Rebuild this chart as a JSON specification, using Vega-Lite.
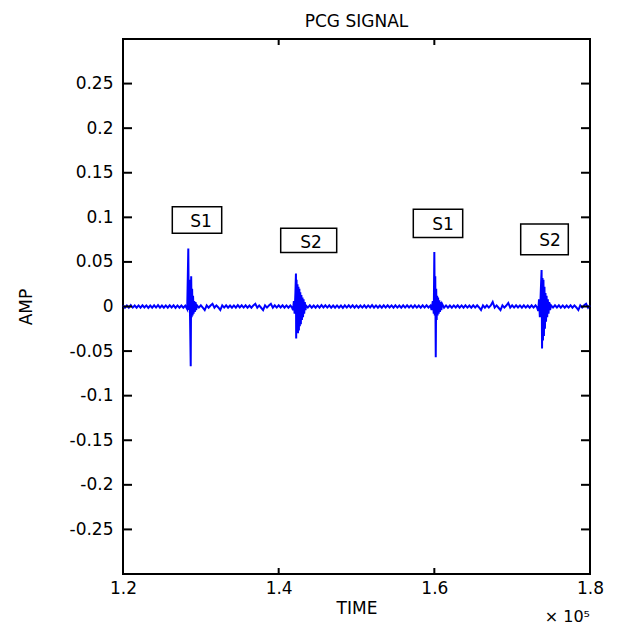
{
  "$schema": "https://vega.github.io/schema/vega-lite/v6.json",
  "width": 467,
  "height": 535,
  "autosize": {"type": "none"},
  "padding": {"left": 123, "top": 39, "right": 27, "bottom": 52},
  "background": "white",
  "title": {"text": "PCG SIGNAL", "offset": 8},
  "datasets": {
    "sig": [
      {"t":120000,"a":0.0012},{"t":120250,"a":-0.0014},{"t":120500,"a":0.0011},{"t":120750,"a":-0.0013},
      {"t":121000,"a":0.0015},{"t":121250,"a":-0.0012},{"t":121500,"a":0.0011},{"t":121750,"a":-0.0014},
      {"t":122000,"a":0.0012},{"t":122250,"a":-0.0013},{"t":122500,"a":0.0014},{"t":122750,"a":-0.0011},
      {"t":123000,"a":0.0012},{"t":123250,"a":-0.0015},{"t":123500,"a":0.0011},{"t":123750,"a":-0.0013},
      {"t":124000,"a":0.0013},{"t":124250,"a":-0.0012},{"t":124500,"a":0.0015},{"t":124750,"a":-0.0013},
      {"t":125000,"a":0.0011},{"t":125250,"a":-0.0014},{"t":125500,"a":0.0012},{"t":125750,"a":-0.0013},
      {"t":126000,"a":0.0014},{"t":126250,"a":-0.0011},{"t":126500,"a":0.0013},{"t":126750,"a":-0.0015},
      {"t":127000,"a":0.0012},{"t":127250,"a":-0.0013},{"t":127500,"a":0.0011},{"t":127750,"a":-0.0014},
      {"t":128000,"a":0.001},{"t":128250,"a":-0.003},{"t":128390,"a":0.065},{"t":128450,"a":-0.004},
      {"t":128560,"a":0.03},{"t":128620,"a":-0.015},{"t":128700,"a":-0.067},{"t":128760,"a":0.034},
      {"t":128820,"a":-0.012},{"t":128880,"a":0.02},{"t":128940,"a":-0.01},{"t":129000,"a":0.012},
      {"t":129070,"a":-0.008},{"t":129150,"a":0.006},{"t":129230,"a":-0.006},{"t":129320,"a":0.005},
      {"t":129400,"a":-0.004},
      {"t":129500,"a":0.0013},{"t":129750,"a":-0.0012},{"t":130000,"a":0.0014},{"t":130250,"a":-0.0013},
      {"t":130500,"a":-0.004},{"t":130750,"a":0.0012},{"t":131000,"a":-0.0014},{"t":131250,"a":0.0011},
      {"t":131500,"a":0.003},{"t":131750,"a":-0.0013},{"t":132000,"a":0.0012},{"t":132250,"a":-0.0011},
      {"t":132500,"a":-0.004},{"t":132750,"a":0.0013},{"t":133000,"a":-0.0012},{"t":133250,"a":0.0014},
      {"t":133500,"a":-0.0013},{"t":133750,"a":0.0011},{"t":134000,"a":-0.0014},{"t":134250,"a":0.0012},
      {"t":134500,"a":-0.0013},{"t":134750,"a":0.0015},{"t":135000,"a":-0.0011},{"t":135250,"a":0.0013},
      {"t":135500,"a":-0.0012},{"t":135750,"a":0.0014},{"t":136000,"a":-0.0013},{"t":136250,"a":0.0011},
      {"t":136500,"a":-0.0014},{"t":136750,"a":0.0012},{"t":137000,"a":0.003},{"t":137250,"a":-0.0013},
      {"t":137500,"a":0.0012},{"t":137750,"a":-0.0014},{"t":138000,"a":-0.004},{"t":138250,"a":0.0013},
      {"t":138500,"a":-0.0012},{"t":138750,"a":0.0011},{"t":139000,"a":0.003},{"t":139250,"a":-0.0013},
      {"t":139500,"a":0.0014},{"t":139750,"a":-0.0012},{"t":140000,"a":0.0013},{"t":140250,"a":-0.0011},
      {"t":140500,"a":0.0014},{"t":140750,"a":-0.0013},{"t":141000,"a":0.0012},{"t":141250,"a":-0.0014},
      {"t":141500,"a":0.0011},
      {"t":141700,"a":-0.001},{"t":141850,"a":-0.004},{"t":141950,"a":0.006},{"t":142050,"a":-0.008},
      {"t":142150,"a":0.015},{"t":142220,"a":0.037},{"t":142250,"a":-0.036},{"t":142300,"a":0.03},
      {"t":142350,"a":-0.03},{"t":142420,"a":0.025},{"t":142480,"a":-0.03},{"t":142540,"a":0.022},
      {"t":142600,"a":-0.027},{"t":142660,"a":0.02},{"t":142720,"a":-0.022},{"t":142780,"a":0.016},
      {"t":142850,"a":-0.02},{"t":142920,"a":0.013},{"t":142990,"a":-0.015},{"t":143060,"a":0.01},
      {"t":143130,"a":-0.012},{"t":143200,"a":0.008},{"t":143280,"a":-0.008},{"t":143360,"a":0.005},
      {"t":143450,"a":-0.004},
      {"t":143500,"a":0.0013},{"t":143750,"a":-0.0012},{"t":144000,"a":0.0014},{"t":144250,"a":-0.0013},
      {"t":144500,"a":0.0011},{"t":144750,"a":-0.0014},{"t":145000,"a":0.0012},{"t":145250,"a":-0.0013},
      {"t":145500,"a":0.0015},{"t":145750,"a":-0.0011},{"t":146000,"a":0.0013},{"t":146250,"a":-0.0012},
      {"t":146500,"a":0.0014},{"t":146750,"a":-0.0013},{"t":147000,"a":0.0011},{"t":147250,"a":-0.0014},
      {"t":147500,"a":0.0012},{"t":147750,"a":-0.0013},{"t":148000,"a":0.0011},{"t":148250,"a":-0.0015},
      {"t":148500,"a":0.0013},{"t":148750,"a":-0.0012},{"t":149000,"a":0.0014},{"t":149250,"a":-0.0011},
      {"t":149500,"a":0.0013},{"t":149750,"a":-0.0014},{"t":150000,"a":0.0012},{"t":150250,"a":-0.0013},
      {"t":150500,"a":0.0011},{"t":150750,"a":-0.0012},{"t":151000,"a":0.0014},{"t":151250,"a":-0.0013},
      {"t":151500,"a":0.0012},{"t":151750,"a":-0.0011},{"t":152000,"a":0.0015},{"t":152250,"a":-0.0013},
      {"t":152500,"a":0.0012},{"t":152750,"a":-0.0014},{"t":153000,"a":0.0011},{"t":153250,"a":-0.0013},
      {"t":153500,"a":0.0014},{"t":153750,"a":-0.0012},{"t":154000,"a":0.0013},{"t":154250,"a":-0.0011},
      {"t":154500,"a":0.0012},{"t":154750,"a":-0.0014},{"t":155000,"a":0.0013},{"t":155250,"a":-0.0012},
      {"t":155500,"a":0.0011},{"t":155750,"a":-0.0013},{"t":156000,"a":0.0014},{"t":156250,"a":-0.0012},
      {"t":156500,"a":0.0013},{"t":156750,"a":-0.0011},{"t":157000,"a":0.0012},{"t":157250,"a":-0.0014},
      {"t":157500,"a":0.0013},{"t":157750,"a":-0.0012},{"t":158000,"a":0.0011},{"t":158250,"a":-0.0013},
      {"t":158500,"a":0.0014},{"t":158750,"a":-0.0012},{"t":159000,"a":0.0013},{"t":159250,"a":-0.0011},
      {"t":159500,"a":0.001},{"t":159650,"a":-0.004},{"t":159800,"a":0.006},{"t":159930,"a":-0.008},
      {"t":160000,"a":0.061},{"t":160060,"a":-0.01},{"t":160120,"a":0.034},{"t":160183,"a":-0.057},
      {"t":160240,"a":0.02},{"t":160300,"a":-0.015},{"t":160360,"a":0.012},{"t":160420,"a":-0.01},
      {"t":160480,"a":0.01},{"t":160560,"a":-0.008},{"t":160640,"a":0.007},{"t":160720,"a":-0.006},
      {"t":160800,"a":0.005},{"t":160900,"a":-0.004},{"t":161000,"a":0.003},
      {"t":161250,"a":-0.0013},{"t":161500,"a":0.0012},{"t":161750,"a":-0.0014},{"t":162000,"a":0.0011},
      {"t":162250,"a":-0.0013},{"t":162500,"a":0.0012},{"t":162750,"a":-0.0011},{"t":163000,"a":0.0014},
      {"t":163250,"a":-0.0013},{"t":163500,"a":0.0012},{"t":163750,"a":-0.0014},{"t":164000,"a":0.0013},
      {"t":164250,"a":-0.0012},{"t":164500,"a":0.0011},{"t":164750,"a":-0.0013},{"t":165000,"a":0.0014},
      {"t":165250,"a":-0.0012},{"t":165500,"a":0.0013},{"t":165750,"a":-0.0011},{"t":166000,"a":-0.004},
      {"t":166250,"a":0.0012},{"t":166500,"a":-0.0014},{"t":166750,"a":0.0013},{"t":167000,"a":-0.0012},
      {"t":167250,"a":0.0011},{"t":167500,"a":0.005},{"t":167750,"a":-0.0013},{"t":168000,"a":0.0012},
      {"t":168250,"a":-0.0014},{"t":168500,"a":-0.004},{"t":168750,"a":0.0013},{"t":169000,"a":-0.0012},
      {"t":169250,"a":0.0011},{"t":169500,"a":0.004},{"t":169750,"a":-0.0013},{"t":170000,"a":0.0014},
      {"t":170250,"a":-0.0012},{"t":170500,"a":0.0013},{"t":170750,"a":-0.0011},{"t":171000,"a":0.0012},
      {"t":171250,"a":-0.0014},{"t":171500,"a":0.0013},{"t":171750,"a":-0.0012},{"t":172000,"a":0.0011},
      {"t":172250,"a":-0.0013},{"t":172500,"a":0.0014},{"t":172750,"a":-0.0012},{"t":173000,"a":0.0013},
      {"t":173200,"a":-0.001},{"t":173350,"a":-0.005},{"t":173450,"a":0.008},{"t":173560,"a":-0.012},
      {"t":173680,"a":0.018},{"t":173780,"a":0.041},{"t":173840,"a":-0.047},{"t":173900,"a":0.032},
      {"t":173960,"a":-0.038},{"t":174020,"a":0.03},{"t":174080,"a":-0.033},{"t":174150,"a":0.022},
      {"t":174210,"a":-0.025},{"t":174280,"a":0.015},{"t":174350,"a":-0.017},{"t":174420,"a":0.012},
      {"t":174500,"a":-0.012},{"t":174580,"a":0.008},{"t":174670,"a":-0.008},{"t":174760,"a":0.005},
      {"t":174870,"a":-0.004},
      {"t":175000,"a":0.0013},{"t":175250,"a":-0.0012},{"t":175500,"a":0.0014},{"t":175750,"a":-0.0011},
      {"t":176000,"a":0.0013},{"t":176250,"a":-0.0014},{"t":176500,"a":0.0012},{"t":176750,"a":-0.0013},
      {"t":177000,"a":0.0011},{"t":177250,"a":-0.0012},{"t":177500,"a":0.0014},{"t":177750,"a":-0.0013},
      {"t":178000,"a":0.0012},{"t":178250,"a":-0.0011},{"t":178500,"a":-0.004},{"t":178750,"a":0.0013},
      {"t":179000,"a":-0.0012},{"t":179250,"a":0.0014},{"t":179500,"a":0.003},{"t":179750,"a":-0.0013},
      {"t":180000,"a":0.0012}
    ],
    "boxes": [
      {"label":"S1","t1":126334,"t2":132681,"a1":0.0822,"a2":0.112,"tx":130021,"ax":0.0952},
      {"label":"S2","t1":140261,"t2":147456,"a1":0.0605,"a2":0.0878,"tx":144154,"ax":0.0713},
      {"label":"S1","t1":157297,"t2":163644,"a1":0.0773,"a2":0.109,"tx":161113,"ax":0.0915},
      {"label":"S2","t1":171096,"t2":177212,"a1":0.0579,"a2":0.0926,"tx":174861,"ax":0.0739}
    ],
    "xticks": [{"t":140000},{"t":160000}],
    "yticks": [{"a":-0.25},{"a":-0.2},{"a":-0.15},{"a":-0.1},{"a":-0.05},{"a":0},{"a":0.05},{"a":0.1},{"a":0.15},{"a":0.2},{"a":0.25}],
    "mult": [{"t":180000,"a":-0.3542,"label":"× 10⁵"}]
  },
  "layer": [
    {
      "data": {"name": "sig"},
      "mark": {"type": "line", "color": "#0000ff", "strokeWidth": 2},
      "encoding": {
        "x": {"field": "t", "type": "quantitative",
          "scale": {"domain": [120000, 180000], "nice": false, "zero": false},
          "axis": {"orient": "bottom", "values": [120000, 140000, 160000, 180000],
            "labelExpr": "format(datum.value/100000, '.1f')", "title": "TIME",
            "ticks": false, "labelPadding": 6, "titlePadding": 4, "labelFlush": false}},
        "y": {"field": "a", "type": "quantitative",
          "scale": {"domain": [-0.3, 0.3], "nice": false, "zero": false},
          "axis": {"orient": "left", "values": [-0.25, -0.2, -0.15, -0.1, -0.05, 0, 0.05, 0.1, 0.15, 0.2, 0.25],
            "labelExpr": "'' + datum.value", "title": "AMP",
            "ticks": false, "labelPadding": 10, "titlePadding": 34}}
      }
    },
    {
      "data": {"name": "xticks"},
      "mark": {"type": "tick", "orient": "vertical", "size": 12, "thickness": 2, "color": "#000", "opacity": 1, "clip": true},
      "encoding": {
        "x": {"field": "t", "type": "quantitative", "scale": {"domain": [120000, 180000], "nice": false, "zero": false}, "axis": null},
        "y": {"datum": -0.3, "type": "quantitative", "scale": {"domain": [-0.3, 0.3], "nice": false, "zero": false}, "axis": null}
      }
    },
    {
      "data": {"name": "xticks"},
      "mark": {"type": "tick", "orient": "vertical", "size": 12, "thickness": 2, "color": "#000", "opacity": 1, "clip": true},
      "encoding": {
        "x": {"field": "t", "type": "quantitative", "scale": {"domain": [120000, 180000], "nice": false, "zero": false}, "axis": null},
        "y": {"datum": 0.3, "type": "quantitative", "scale": {"domain": [-0.3, 0.3], "nice": false, "zero": false}, "axis": null}
      }
    },
    {
      "data": {"name": "yticks"},
      "mark": {"type": "tick", "orient": "horizontal", "size": 18, "thickness": 2, "color": "#000", "opacity": 1, "clip": true},
      "encoding": {
        "x": {"datum": 120000, "type": "quantitative", "scale": {"domain": [120000, 180000], "nice": false, "zero": false}, "axis": null},
        "y": {"field": "a", "type": "quantitative", "scale": {"domain": [-0.3, 0.3], "nice": false, "zero": false}, "axis": null}
      }
    },
    {
      "data": {"name": "yticks"},
      "mark": {"type": "tick", "orient": "horizontal", "size": 18, "thickness": 2, "color": "#000", "opacity": 1, "clip": true},
      "encoding": {
        "x": {"datum": 180000, "type": "quantitative", "scale": {"domain": [120000, 180000], "nice": false, "zero": false}, "axis": null},
        "y": {"field": "a", "type": "quantitative", "scale": {"domain": [-0.3, 0.3], "nice": false, "zero": false}, "axis": null}
      }
    },
    {
      "data": {"name": "boxes"},
      "mark": {"type": "rect", "fill": "white", "stroke": "#000", "strokeWidth": 1.5},
      "encoding": {
        "x": {"field": "t1", "type": "quantitative", "scale": {"domain": [120000, 180000], "nice": false, "zero": false}, "axis": null},
        "x2": {"field": "t2"},
        "y": {"field": "a1", "type": "quantitative", "scale": {"domain": [-0.3, 0.3], "nice": false, "zero": false}, "axis": null},
        "y2": {"field": "a2"}
      }
    },
    {
      "data": {"name": "boxes"},
      "mark": {"type": "text", "font": "DejaVu Sans", "fontSize": 17, "align": "center", "baseline": "middle", "color": "#000"},
      "encoding": {
        "x": {"field": "tx", "type": "quantitative", "scale": {"domain": [120000, 180000], "nice": false, "zero": false}, "axis": null},
        "y": {"field": "ax", "type": "quantitative", "scale": {"domain": [-0.3, 0.3], "nice": false, "zero": false}, "axis": null},
        "text": {"field": "label"}
      }
    },
    {
      "data": {"name": "mult"},
      "mark": {"type": "text", "font": "DejaVu Sans", "fontSize": 16, "align": "right", "baseline": "alphabetic", "color": "#000", "clip": false},
      "encoding": {
        "x": {"field": "t", "type": "quantitative", "scale": {"domain": [120000, 180000], "nice": false, "zero": false}, "axis": null},
        "y": {"field": "a", "type": "quantitative", "scale": {"domain": [-0.3, 0.3], "nice": false, "zero": false}, "axis": null},
        "text": {"field": "label"}
      }
    }
  ],
  "resolve": {"axis": {"x": "independent", "y": "independent"}},
  "config": {
    "view": {"stroke": "#000", "strokeWidth": 2},
    "axis": {"labelFont": "DejaVu Sans", "labelFontSize": 17, "titleFont": "DejaVu Sans", "titleFontSize": 17,
      "titleFontWeight": "normal", "labelColor": "#000", "titleColor": "#000",
      "grid": false, "domain": false},
    "title": {"font": "DejaVu Sans", "fontSize": 17, "fontWeight": "normal", "color": "#000"}
  }
}
